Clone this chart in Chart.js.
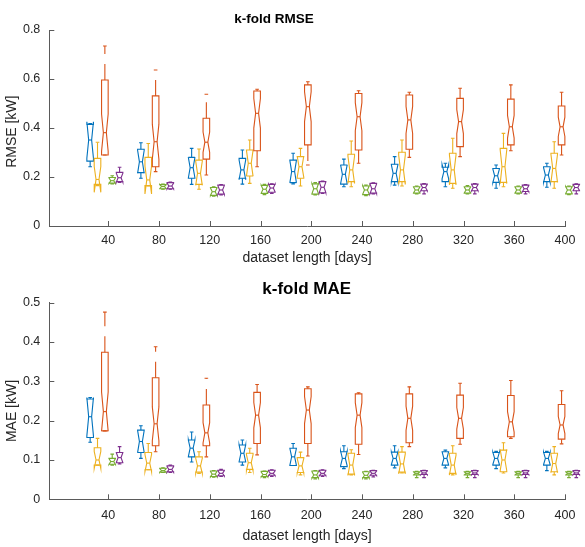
<!DOCTYPE html>
<html><head><meta charset="utf-8">
<script src="https://cdn.jsdelivr.net/npm/chart.js@4.4.1/dist/chart.umd.min.js"></script>
<style>html,body{margin:0;padding:0;background:#fff;}canvas{display:block;}</style>
</head><body>
<canvas id="c1" width="585" height="270"></canvas>
<canvas id="c2" width="585" height="277"></canvas>
<script>
// ---------- data ----------
const categories = [40, 80, 120, 160, 200, 240, 280, 320, 360, 400];
const xTickLabels = ['40','80','120','160','200','240','280','320','360','400'];
const rmseTicks = [0, 0.2, 0.4, 0.6, 0.8];
const maeTicks = [0, 0.1, 0.2, 0.3, 0.4, 0.5];
const seriesNames = ['model 1', 'model 2', 'model 3', 'model 4', 'model 5'];
const seriesColors = ['#0072BD', '#EDB120', '#D95319', '#77AC30', '#7E2F8E'];
const seriesOffsets = [-14.3, -8.5, -2.7, 3.1, 8.9]; // days, position within group
const foldsPerSeries = [10, 10, 40, 10, 10];       // sample size used for notch

// each entry: [lower whisker, q1, median, q3, upper whisker]
const rmseBlue = [[0.242,0.265,0.351,0.415,0.418],[0.195,0.218,0.262,0.313,0.34],[0.17,0.195,0.238,0.28,0.317],[0.171,0.195,0.229,0.276,0.31],[0.172,0.177,0.222,0.269,0.297],[0.16,0.171,0.211,0.249,0.273],[0.167,0.181,0.215,0.252,0.283],[0.16,0.181,0.222,0.24,0.256],[0.154,0.178,0.205,0.235,0.249],[0.158,0.181,0.208,0.242,0.256]];
const rmseYellow = [[0.165,0.17,0.19,0.276,0.342],[0.163,0.165,0.188,0.28,0.337],[0.15,0.17,0.215,0.269,0.314],[0.174,0.204,0.256,0.31,0.351],[0.163,0.195,0.242,0.283,0.317],[0.16,0.181,0.229,0.293,0.347],[0.163,0.181,0.229,0.301,0.351],[0.154,0.174,0.229,0.297,0.358],[0.16,0.178,0.242,0.317,0.378],[0.154,0.181,0.235,0.297,0.344]];
const rmseOrange = [[0.29,0.29,0.381,0.596,0.735],[0.222,0.242,0.344,0.531,0.637],[0.208,0.273,0.342,0.44,0.538],[0.242,0.307,0.46,0.551,0.558],[0.249,0.331,0.487,0.576,0.589],[0.256,0.31,0.446,0.541,0.552],[0.28,0.313,0.433,0.535,0.546],[0.283,0.324,0.426,0.521,0.562],[0.307,0.331,0.405,0.518,0.576],[0.29,0.331,0.405,0.49,0.546]];
const rmseGreen = [[0.172,0.175,0.185,0.198,0.205],[0.15,0.152,0.161,0.169,0.171],[0.122,0.125,0.14,0.157,0.16],[0.128,0.133,0.15,0.166,0.17],[0.127,0.13,0.152,0.172,0.177],[0.124,0.128,0.147,0.163,0.167],[0.131,0.134,0.147,0.16,0.163],[0.131,0.134,0.147,0.16,0.165],[0.131,0.134,0.147,0.16,0.163],[0.128,0.131,0.147,0.16,0.163]];
const rmsePurple = [[0.178,0.181,0.197,0.219,0.24],[0.15,0.152,0.163,0.177,0.179],[0.127,0.13,0.147,0.167,0.169],[0.133,0.138,0.155,0.17,0.172],[0.133,0.136,0.158,0.181,0.183],[0.131,0.134,0.152,0.174,0.176],[0.131,0.144,0.157,0.171,0.173],[0.131,0.144,0.157,0.171,0.173],[0.131,0.141,0.152,0.167,0.169],[0.131,0.144,0.157,0.17,0.172]];

const maeBlue = [[0.145,0.157,0.21,0.255,0.259],[0.104,0.119,0.147,0.176,0.187],[0.095,0.108,0.13,0.151,0.171],[0.087,0.095,0.117,0.138,0.151],[0.086,0.086,0.108,0.13,0.142],[0.078,0.083,0.104,0.121,0.136],[0.08,0.087,0.104,0.12,0.136],[0.08,0.087,0.104,0.121,0.125],[0.078,0.087,0.104,0.119,0.122],[0.073,0.087,0.104,0.119,0.122]];
const maeYellow = [[0.087,0.087,0.1,0.131,0.155],[0.075,0.075,0.092,0.119,0.142],[0.066,0.069,0.085,0.108,0.121],[0.068,0.076,0.093,0.117,0.13],[0.062,0.068,0.085,0.106,0.12],[0.062,0.064,0.087,0.117,0.126],[0.067,0.069,0.09,0.12,0.134],[0.062,0.066,0.087,0.117,0.136],[0.067,0.07,0.1,0.125,0.144],[0.062,0.07,0.091,0.117,0.134]];
const maeOrange = [[0.174,0.174,0.223,0.374,0.476],[0.121,0.136,0.192,0.309,0.388],[0.108,0.136,0.169,0.24,0.308],[0.113,0.142,0.214,0.272,0.292],[0.11,0.142,0.227,0.281,0.286],[0.114,0.14,0.214,0.268,0.271],[0.134,0.144,0.206,0.268,0.286],[0.14,0.155,0.206,0.265,0.295],[0.155,0.159,0.197,0.264,0.302],[0.141,0.153,0.189,0.241,0.276]];
const maeGreen = [[0.087,0.089,0.096,0.104,0.115],[0.068,0.069,0.073,0.079,0.08],[0.056,0.058,0.064,0.072,0.073],[0.055,0.058,0.063,0.071,0.072],[0.052,0.055,0.062,0.072,0.073],[0.052,0.055,0.061,0.07,0.071],[0.055,0.062,0.066,0.07,0.071],[0.055,0.062,0.066,0.07,0.071],[0.055,0.062,0.066,0.07,0.071],[0.055,0.062,0.066,0.07,0.071]];
const maePurple = [[0.09,0.093,0.106,0.119,0.134],[0.068,0.07,0.076,0.085,0.087],[0.058,0.06,0.066,0.074,0.076],[0.058,0.061,0.066,0.074,0.075],[0.058,0.061,0.066,0.074,0.075],[0.057,0.061,0.066,0.073,0.074],[0.055,0.063,0.067,0.073,0.074],[0.055,0.063,0.067,0.073,0.074],[0.055,0.063,0.067,0.073,0.074],[0.055,0.063,0.067,0.073,0.074]];

// ---------- styling ----------
const FONT = '"Liberation Sans", Arial, Helvetica, sans-serif';
const TXT = '#262626';
const AXIS = '#5a5a5a';
const BOX_WIDTH_DAYS = 5.2;

const notchedBoxPlugin = {
  id: 'notchedBoxes',
  afterDatasetsDraw(chart) {
    const {ctx, scales: {x, y}} = chart;
    const hw = (x.getPixelForValue(BOX_WIDTH_DAYS) - x.getPixelForValue(0)) / 2;
    const capHw = hw * 0.55;
    const r = 0.45;
    ctx.save();
    ctx.lineWidth = 1.1;
    chart.data.datasets.forEach((ds, si) => {
      ctx.strokeStyle = ds.borderColor;
      ds.stats.forEach((st, ci) => {
        const [lo, q1, med, q3, hi] = st;
        const nh = 1.57 * (q3 - q1) / Math.sqrt(foldsPerSeries[si]);
        const cx = x.getPixelForValue(categories[ci] + seriesOffsets[si]);
        const pLo = y.getPixelForValue(lo), pQ1 = y.getPixelForValue(q1),
              pMed = y.getPixelForValue(med), pQ3 = y.getPixelForValue(q3),
              pHi = y.getPixelForValue(hi),
              pNlo = y.getPixelForValue(med - nh), pNhi = y.getPixelForValue(med + nh);
        // whiskers (dashed)
        ctx.setLineDash([16, 10]);
        ctx.beginPath();
        if (hi > q3) { ctx.moveTo(cx, pQ3); ctx.lineTo(cx, pHi); }
        if (lo < q1) { ctx.moveTo(cx, pQ1); ctx.lineTo(cx, pLo); }
        ctx.stroke();
        ctx.setLineDash([]);
        // caps
        ctx.beginPath();
        ctx.moveTo(cx - capHw, pHi); ctx.lineTo(cx + capHw, pHi);
        ctx.moveTo(cx - capHw, pLo); ctx.lineTo(cx + capHw, pLo);
        ctx.stroke();
        // notched box
        ctx.beginPath();
        ctx.moveTo(cx - hw, pQ1);
        ctx.lineTo(cx - hw, pNlo);
        ctx.lineTo(cx - hw * r, pMed);
        ctx.lineTo(cx - hw, pNhi);
        ctx.lineTo(cx - hw, pQ3);
        ctx.lineTo(cx + hw, pQ3);
        ctx.lineTo(cx + hw, pNhi);
        ctx.lineTo(cx + hw * r, pMed);
        ctx.lineTo(cx + hw, pNlo);
        ctx.lineTo(cx + hw, pQ1);
        ctx.closePath();
        ctx.stroke();
        // median
        ctx.beginPath();
        ctx.moveTo(cx - hw * r, pMed); ctx.lineTo(cx + hw * r, pMed);
        ctx.stroke();
      });
    });
    ctx.restore();
  }
};

const inwardTicksPlugin = {
  id: 'inwardTicks',
  afterDraw(chart) {
    const {ctx, scales: {x, y}, chartArea} = chart;
    ctx.save();
    ctx.strokeStyle = AXIS;
    ctx.lineWidth = 1;
    ctx.beginPath();
    x.ticks.forEach((t, i) => {
      const px = Math.round(x.getPixelForTick(i)) + 0.5;
      ctx.moveTo(px, chartArea.bottom); ctx.lineTo(px, chartArea.bottom - 5);
    });
    y.ticks.forEach((t, i) => {
      const py = Math.round(y.getPixelForTick(i)) + 0.5;
      ctx.moveTo(chartArea.left, py); ctx.lineTo(chartArea.left + 5, py);
    });
    ctx.stroke();
    ctx.restore();
  }
};

const textPlugin = {
  id: 'panelTexts',
  afterDraw(chart, args, opts) {
    const {ctx} = chart;
    ctx.save();
    ctx.fillStyle = '#000';
    ctx.textAlign = 'center';
    ctx.textBaseline = 'alphabetic';
    ctx.font = 'bold ' + opts.titleSize + 'px ' + FONT;
    ctx.fillText(opts.title, opts.titleX, opts.titleY);
    ctx.fillStyle = TXT;
    ctx.font = '14px ' + FONT;
    ctx.translate(opts.yTitleX, opts.yTitleY);
    ctx.rotate(-Math.PI / 2);
    ctx.fillText(opts.yTitle, 0, 0);
    ctx.restore();
  }
};

function makeChart(canvasId, stats, yTicks, yMax, cfg) {
  const datasets = stats.map((st, si) => ({
    label: seriesNames[si],
    data: st.map((s, ci) => ({x: categories[ci] + seriesOffsets[si], y: s[2]})),
    stats: st,
    borderColor: seriesColors[si],
    backgroundColor: seriesColors[si],
    pointRadius: 0,
    showLine: false
  }));
  return new Chart(document.getElementById(canvasId), {
    type: 'scatter',
    data: {datasets},
    plugins: [notchedBoxPlugin, inwardTicksPlugin, textPlugin],
    options: {
      responsive: false,
      animation: false,
      layout: {padding: {top: cfg.padTop, right: 20, left: 0, bottom: 0}},
      plugins: {
        legend: {display: false},
        tooltip: {enabled: false},
        title: {display: false},
        panelTexts: cfg.texts
      },
      scales: {
        x: {
          type: 'linear', min: -6.5, max: 400,
          afterBuildTicks: s => { s.ticks = categories.map(v => ({value: v})); },
          afterFit: s => { s.height = cfg.xHeight; },
          grid: {display: true, drawOnChartArea: false, drawTicks: false},
          border: {display: true, color: AXIS, width: 1},
          ticks: {
            color: TXT, font: {family: FONT, size: 12.5}, padding: cfg.xTickPad,
            maxRotation: 0, autoSkip: false,
            callback: (v) => { const i = categories.indexOf(v); return i >= 0 ? xTickLabels[i] : ''; }
          },
          title: {display: true, text: 'dataset length [days]', color: TXT,
                  font: {family: FONT, size: 14}, padding: {top: 0, bottom: cfg.xTitlePad}}
        },
        y: {
          min: 0, max: yMax,
          afterBuildTicks: s => { s.ticks = yTicks.map(v => ({value: v})); },
          afterFit: s => { s.width = 49.3; },
          grid: {display: true, drawOnChartArea: false, drawTicks: false},
          border: {display: true, color: AXIS, width: 1},
          ticks: {color: TXT, font: {family: FONT, size: 12.5}, padding: 9,
                  callback: v => String(v)}
        }
      }
    }
  });
}

makeChart('c1', [rmseBlue, rmseYellow, rmseOrange, rmseGreen, rmsePurple], rmseTicks, 0.8, {
  padTop: 30, xHeight: 44, xTickPad: 7.3, xTitlePad: 3.3,
  texts: {title: 'k-fold RMSE', titleSize: 13.5, titleX: 274, titleY: 23.3,
          yTitle: 'RMSE [kW]', yTitleX: 15.5, yTitleY: 131.7}
});
makeChart('c2', [maeBlue, maeYellow, maeOrange, maeGreen, maePurple], maeTicks, 0.5, {
  padTop: 32.7, xHeight: 47.7, xTickPad: 8.9, xTitlePad: 2.6,
  texts: {title: 'k-fold MAE', titleSize: 17, titleX: 306.7, titleY: 24,
          yTitle: 'MAE [kW]', yTitleX: 16, yTitleY: 141}
});
</script>
</body></html>
